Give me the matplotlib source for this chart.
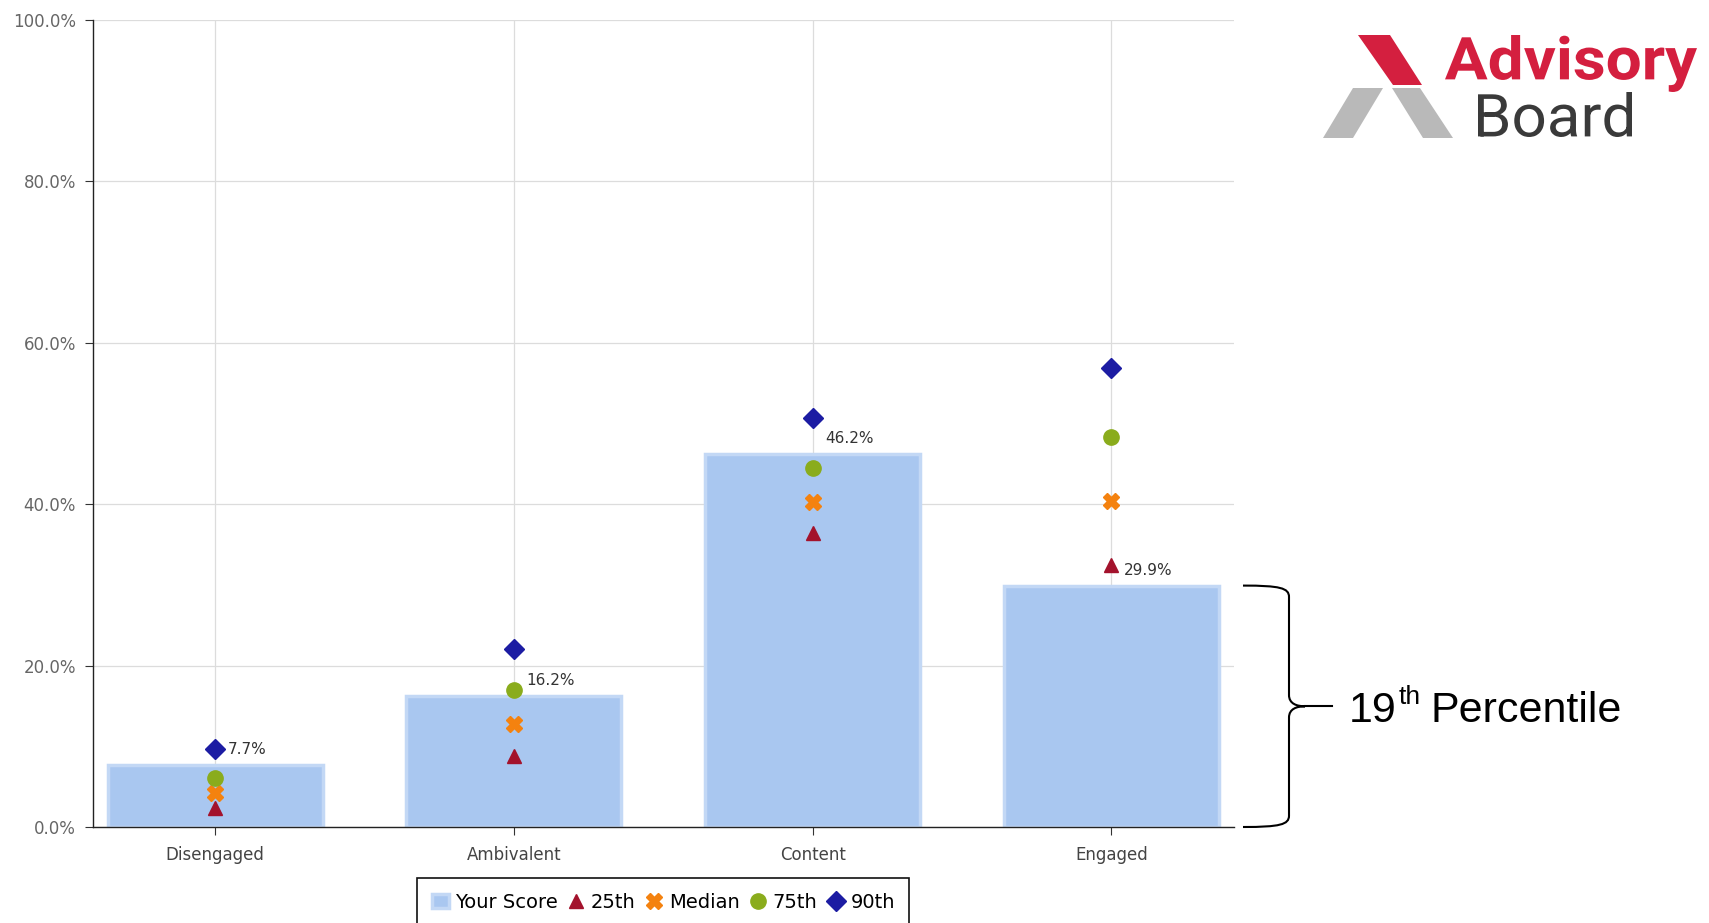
import matplotlib
matplotlib.use("Agg")
import matplotlib.pyplot as plt
import numpy as np
from matplotlib.patches import Polygon, PathPatch
from matplotlib.path import Path
from matplotlib.textpath import TextPath
from matplotlib.font_manager import FontProperties
from matplotlib.transforms import Affine2D, blended_transform_factory


# Engagement categories and scores (percent of respondents)
categories = ['Disengaged', 'Ambivalent', 'Content', 'Engaged']
your_score = [7.7, 16.2, 46.2, 29.9]

# Benchmark percentiles
p25 = [2.3, 8.8, 36.4, 32.4]
median = [4.2, 12.8, 40.2, 40.4]
p75 = [6.1, 17.0, 44.5, 48.3]
p90 = [9.6, 22.1, 50.7, 56.8]

y_ticks = [0, 20, 40, 60, 80, 100]
y_tick_labels = ['0.0%', '20.0%', '40.0%', '60.0%', '80.0%', '100.0%']

W, H = 1709, 923
fig = plt.figure(figsize=(W / 100, H / 100), dpi=100)
ax = fig.add_axes([92.6 / W, 1 - 827 / H, (1234 - 92.6) / W, (827 - 19.6) / H])

x = np.arange(len(categories))

# bars
bars = ax.bar(x, your_score, width=0.72, color='#a9c7f0', edgecolor='#c3d8f5',
              linewidth=2.5, zorder=2, label='Your Score')

# percentile markers
m25, = ax.plot(x, p25, linestyle='none', marker='^', ms=10, color='#a3122c', zorder=4, label='25th')
m50, = ax.plot(x, median, linestyle='none', marker='X', ms=12, color='#f4820f', zorder=4, label='Median')
m75, = ax.plot(x, p75, linestyle='none', marker='o', ms=11, color='#8aac1c', zorder=4, label='75th')
m90, = ax.plot(x, p90, linestyle='none', marker='D', ms=10, color='#1c1ca3', zorder=4, label='90th')

# value labels above each bar
for xi, v in zip(x, your_score):
    ax.annotate(f'{v:.1f}%', (xi, v), xytext=(9, 11), textcoords='offset points',
                ha='left', va='center', fontsize=11, color='#333333', zorder=5)

ax.set_xlim(-0.41, 3.41)
ax.set_ylim(0, 100)
ax.set_xticks(x)
ax.set_xticklabels(categories, fontsize=12, color='#444444')
ax.set_yticks(y_ticks)
ax.set_yticklabels(y_tick_labels, fontsize=12, color='#666666')
ax.tick_params(axis='both', length=6, width=0.8, color='#333333', pad=6)
ax.tick_params(axis='x', pad=8)

for s in ['top', 'right']:
    ax.spines[s].set_visible(False)
for s in ['left', 'bottom']:
    ax.spines[s].set_color('#222222')
    ax.spines[s].set_linewidth(1.0)

ax.grid(True, color='#dcdcdc', linewidth=0.9, zorder=0)
ax.set_axisbelow(True)

leg = ax.legend([bars, m25, m50, m75, m90], ['Your Score', '25th', 'Median', '75th', '90th'],
                loc='upper center', bbox_to_anchor=(0.5, 1 - 878 / H),
                bbox_transform=blended_transform_factory(ax.transAxes, fig.transFigure),
                ncol=5, fontsize=14,
                frameon=True, fancybox=False, edgecolor='#111111', framealpha=1,
                handletextpad=0.3, columnspacing=0.5, handlelength=0.9,
                borderpad=0.75, borderaxespad=0)
leg.get_frame().set_linewidth(1.2)

# overlay in pixel coordinates for logo and bracket
ov = fig.add_axes([0, 0, 1, 1])
ov.set_xlim(0, W)
ov.set_ylim(H, 0)
ov.axis('off')
ov.patch.set_visible(False)


def text_in_box(s, x0, x1, top, bottom, color, weight):
    fp = FontProperties(family='Roboto', weight=weight)
    tp = TextPath((0, 0), s, size=100, prop=fp)
    ext = tp.get_extents()
    sx = (x1 - x0) / ext.width
    sy = (bottom - top) / ext.height
    tr = Affine2D().translate(-ext.x0, -ext.y0).scale(sx, -sy).translate(x0, bottom)
    ov.add_patch(PathPatch(tr.transform_path(tp), facecolor=color, edgecolor='none'))


# logo
ov.add_patch(Polygon([(1358, 35), (1390, 35), (1422, 85), (1393, 85)],
                     closed=True, facecolor='#d41f3f', edgecolor='none'))
ov.add_patch(Polygon([(1353, 88), (1383, 88), (1353, 138), (1323, 138)],
                     closed=True, facecolor='#b9b9b9', edgecolor='none'))
ov.add_patch(Polygon([(1392, 88), (1420, 88), (1453, 138), (1423, 138)],
                     closed=True, facecolor='#b9b9b9', edgecolor='none'))
text_in_box('Advisory', 1445, 1697, 35, 92, '#d41f3f', 'bold')
text_in_box('Board', 1478, 1632, 92, 137, '#3a3a3a', 'normal')

# curly bracket spanning the Engaged bar
bt = blended_transform_factory(ov.transData, ax.transData)
y_top, y_bot = your_score[3], 0
y_mid = (y_top + y_bot) / 2
k = 1.4
verts = [(1243, y_top), (1280, y_top), (1289, y_top - 0.3), (1289, y_top - k),
         (1289, y_mid + k),
         (1289, y_mid + 0.3), (1297, y_mid), (1305, y_mid),
         (1297, y_mid), (1289, y_mid - 0.3), (1289, y_mid - k),
         (1289, y_bot + k),
         (1289, y_bot + 0.3), (1280, y_bot), (1243, y_bot)]
codes = [Path.MOVETO, Path.CURVE4, Path.CURVE4, Path.CURVE4,
         Path.LINETO,
         Path.CURVE4, Path.CURVE4, Path.CURVE4,
         Path.CURVE4, Path.CURVE4, Path.CURVE4,
         Path.LINETO,
         Path.CURVE4, Path.CURVE4, Path.CURVE4]
ov.add_patch(PathPatch(Path(verts, codes), transform=bt, facecolor='none',
                       edgecolor='black', linewidth=1.5, clip_on=False))
ov.plot([1305, 1332], [y_mid, y_mid], color='black', linewidth=1.5,
        transform=bt, clip_on=False)

ov.text(1349, 722, '19', fontsize=31, family='Liberation Sans', va='baseline', color='black')
ov.text(1399, 704, 'th', fontsize=19, family='Liberation Sans', va='baseline', color='black')
ov.text(1431, 722, 'Percentile', fontsize=31, family='Liberation Sans', va='baseline', color='black')

fig.savefig('out.png', dpi=100)
